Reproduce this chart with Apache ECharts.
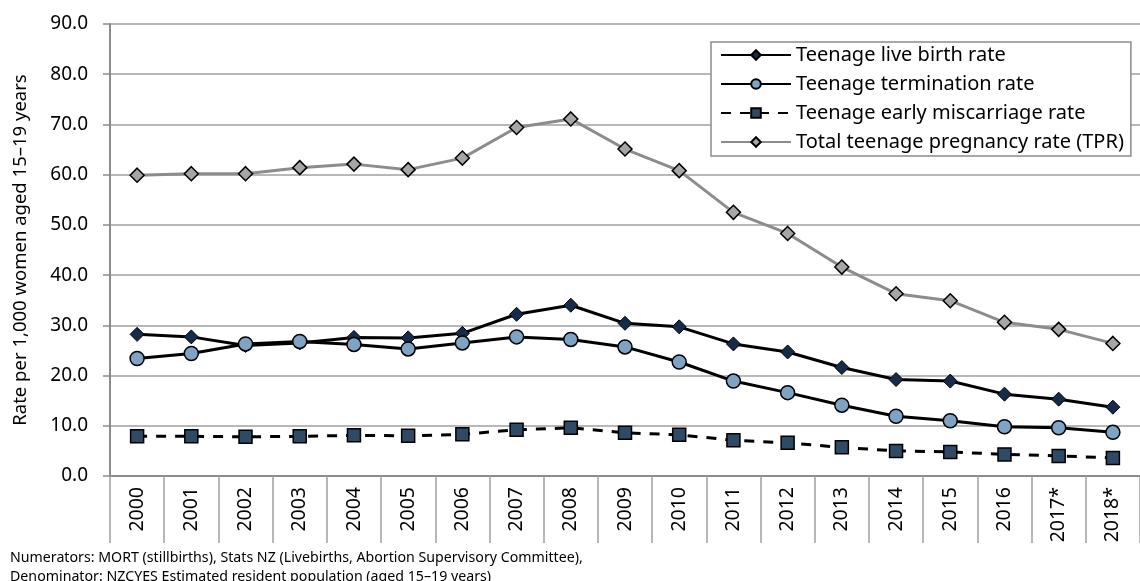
<!DOCTYPE html>
<html>
<head>
<meta charset="utf-8">
<script src="https://cdn.jsdelivr.net/npm/echarts@6/dist/echarts.min.js"></script>
<style>
  html, body { margin: 0; padding: 0; background: #fff; }
  #chart { width: 1140px; height: 581px; }
</style>
</head>
<body>
<div id="chart"></div>
<script>
  var years = ['2000', '2001', '2002', '2003', '2004', '2005', '2006', '2007', '2008', '2009',
    '2010', '2011', '2012', '2013', '2014', '2015', '2016', '2017*', '2018*'];
  var liveBirth = [28.2, 27.7, 26.0, 26.5, 27.6, 27.5, 28.4, 32.2, 34.0, 30.4,
    29.7, 26.3, 24.7, 21.6, 19.2, 18.9, 16.3, 15.3, 13.7];
  var termination = [23.4, 24.4, 26.3, 26.8, 26.2, 25.3, 26.5, 27.7, 27.2, 25.7,
    22.7, 18.9, 16.6, 14.1, 11.9, 11.0, 9.8, 9.6, 8.7];
  var miscarriage = [7.9, 7.9, 7.8, 7.9, 8.1, 8.0, 8.3, 9.2, 9.6, 8.6,
    8.2, 7.1, 6.6, 5.7, 5.0, 4.8, 4.3, 4.0, 3.6];
  var tpr = [59.9, 60.2, 60.2, 61.4, 62.1, 61.0, 63.3, 69.4, 71.1, 65.1,
    60.8, 52.5, 48.3, 41.6, 36.3, 34.9, 30.6, 29.2, 26.4];
  var seriesNames = ['Teenage live birth rate', 'Teenage termination rate',
    'Teenage early miscarriage rate', 'Total teenage pregnancy rate (TPR)'];
  var footnotes = ['Numerators: MORT (stillbirths), Stats NZ (Livebirths, Abortion Supervisory Committee),',
    'Denominator: NZCYES Estimated resident population (aged 15\u201319 years)'];

  var font = '"Noto Sans", "Open Sans", sans-serif';
  var chart = echarts.init(document.getElementById('chart'));

  var option = {
    animation: false,
    textStyle: { fontFamily: font },
    grid: { left: 110, top: 24, width: 1043, height: 452, containLabel: false },
    legend: {
      orient: 'vertical',
      left: 711,
      top: 42,
      backgroundColor: '#fff',
      borderColor: '#8c8c8c',
      borderWidth: 1.5,
      padding: [1, 7, 2, 9],
      itemGap: 5,
      itemWidth: 70,
      itemHeight: 12,
      textStyle: { fontSize: 20, color: '#000', lineHeight: 24, fontFamily: font },
      data: seriesNames
    },
    xAxis: {
      type: 'category',
      data: years,
      boundaryGap: true,
      axisLine: { lineStyle: { color: '#8c8c8c', width: 2 } },
      axisTick: { show: true, length: 67, lineStyle: { color: '#a0a0a0', width: 1.5 } },
      axisLabel: { rotate: 90, fontSize: 19.5, color: '#000', margin: 11, interval: 0 }
    },
    yAxis: {
      type: 'value',
      min: 0,
      max: 90,
      interval: 10,
      name: 'Rate per 1,000 women aged 15\u201319 years',
      nameLocation: 'middle',
      nameGap: 80,
      nameTextStyle: { fontSize: 18.5, color: '#000' },
      axisLine: { show: true, lineStyle: { color: '#8c8c8c', width: 2 } },
      axisTick: { show: true, length: 7, lineStyle: { color: '#8c8c8c', width: 1.5 } },
      axisLabel: {
        fontSize: 19, color: '#000', margin: 22,
        formatter: function (v) { return v.toFixed(1); }
      },
      splitLine: { lineStyle: { color: '#a0a0a0', width: 1.5 } }
    },
    series: [
      {
        name: seriesNames[0],
        type: 'line',
        data: liveBirth,
        symbol: 'diamond',
        symbolSize: 14,
        lineStyle: { color: '#000', width: 3 },
        itemStyle: { color: '#142b4a', borderColor: '#000', borderWidth: 1 },
        z: 3
      },
      {
        name: seriesNames[1],
        type: 'line',
        data: termination,
        symbol: 'circle',
        symbolSize: 14,
        lineStyle: { color: '#000', width: 3 },
        itemStyle: { color: '#7ea3c5', borderColor: '#000', borderWidth: 1.5 },
        z: 4
      },
      {
        name: seriesNames[2],
        type: 'line',
        data: miscarriage,
        symbol: 'rect',
        symbolSize: 13,
        lineStyle: { color: '#000', width: 3, type: [10, 9] },
        itemStyle: { color: '#2e4a64', borderColor: '#000', borderWidth: 1.5 },
        z: 3
      },
      {
        name: seriesNames[3],
        type: 'line',
        data: tpr,
        symbol: 'diamond',
        symbolSize: 14,
        lineStyle: { color: '#8c8c8c', width: 3 },
        itemStyle: { color: '#a6a6a6', borderColor: '#000', borderWidth: 1.5 },
        z: 2
      }
    ],
    graphic: [
      {
        type: 'text', left: 10, top: 551,
        style: { text: footnotes[0], font: '14.2px ' + font, fill: '#000' }
      },
      {
        type: 'text', left: 10, top: 570,
        style: { text: footnotes[1], font: '14.2px ' + font, fill: '#000' }
      }
    ]
  };

  chart.setOption(option);
</script>
</body>
</html>
